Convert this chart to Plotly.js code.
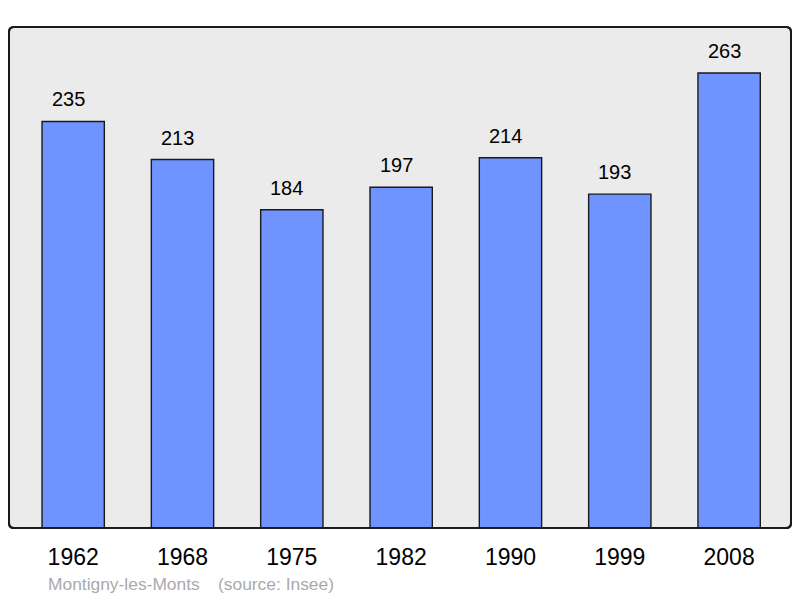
<!DOCTYPE html>
<html>
<head>
<meta charset="utf-8">
<script src="https://cdn.plot.ly/plotly-3.0.1.min.js"></script>
<style>html,body{margin:0;padding:0;background:#fff;}#chart{width:800px;height:598px;}</style>
</head>
<body>
<div id="chart"></div>
<script>
const years = ['1962', '1968', '1975', '1982', '1990', '1999', '2008'];
const population = [235, 213, 184, 197, 214, 193, 263];
const townName = 'Montigny-les-Monts';
const sourceText = '(source: Insee)';

const W = 800, H = 598;
const margin = {l: 9, r: 9, t: 27, b: 70};
const pw = W - margin.l - margin.r, ph = H - margin.t - margin.b;
const rad = 5, rx = rad / pw, ry = rad / ph;
const framePath = `M ${rx},0 L ${1-rx},0 Q 1,0 1,${ry} L 1,${1-ry} Q 1,1 ${1-rx},1 L ${rx},1 Q 0,1 0,${1-ry} L 0,${ry} Q 0,0 ${rx},0 Z`;
const FONT = 'Liberation Sans, Arial, sans-serif';

const trace = {
  type: 'bar',
  x: years,
  y: population,
  width: 0.57,
  marker: {color: '#7094ff', line: {color: '#1a1a1a', width: 1.4}},
  hoverinfo: 'skip'
};

const valueAnns = years.map((yr, i) => ({
  x: i, y: population[i], xref: 'x', yref: 'y',
  text: String(population[i]), showarrow: false,
  yanchor: 'bottom', yshift: 9, xshift: -5,
  font: {family: FONT, size: 20, color: '#000'}
}));

const srcY = -(596 - (H - margin.b)) / ph;

const layout = {
  width: W, height: H,
  margin: margin,
  paper_bgcolor: '#ffffff',
  plot_bgcolor: 'rgba(0,0,0,0)',
  showlegend: false,
  xaxis: {
    type: 'category',
    range: [-0.587, 6.566],
    showgrid: false, zeroline: false, showline: false,
    ticks: '', ticklabelstandoff: 13,
    tickfont: {family: FONT, size: 23, color: '#000'},
    fixedrange: true
  },
  yaxis: {
    range: [0, 289.6],
    visible: false,
    fixedrange: true
  },
  shapes: [{
    type: 'path', xref: 'paper', yref: 'paper', path: framePath,
    fillcolor: '#ebebeb', line: {color: '#1a1a1a', width: 2}, layer: 'below'
  }, {
    type: 'path', xref: 'paper', yref: 'paper', path: framePath,
    fillcolor: 'rgba(0,0,0,0)', line: {color: '#1a1a1a', width: 2}, layer: 'above'
  }],
  annotations: valueAnns.concat([
    {xref: 'paper', yref: 'paper', x: (46 - margin.l) / pw, y: srcY,
     xanchor: 'left', yanchor: 'bottom', showarrow: false, text: townName,
     font: {family: FONT, size: 17.4, color: '#aaaaaa'}},
    {xref: 'paper', yref: 'paper', x: (216 - margin.l) / pw, y: srcY,
     xanchor: 'left', yanchor: 'bottom', showarrow: false, text: sourceText,
     font: {family: FONT, size: 17.4, color: '#aaaaaa'}}
  ])
};

Plotly.newPlot('chart', [trace], layout, {displayModeBar: false, staticPlot: true});
</script>
</body>
</html>
